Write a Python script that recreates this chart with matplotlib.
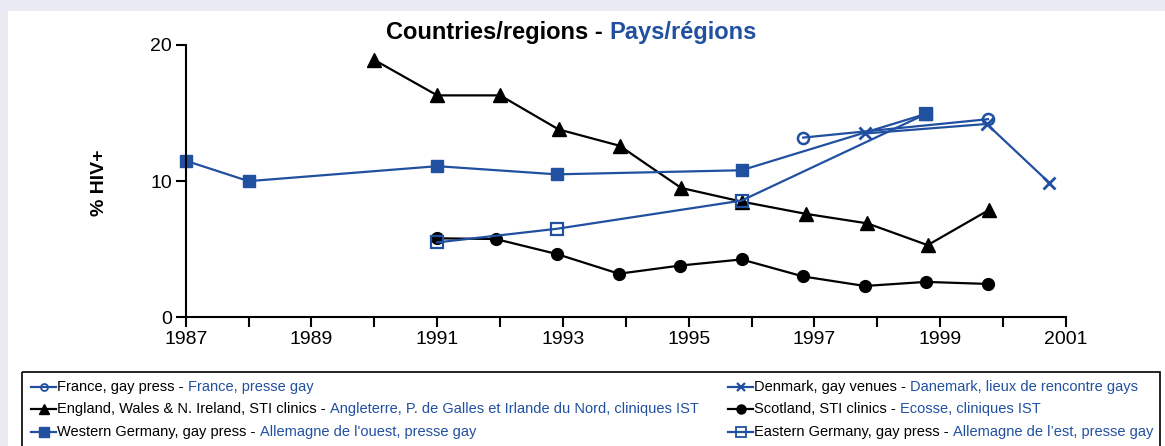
import matplotlib
matplotlib.use("Agg")
import matplotlib.pyplot as plt
from matplotlib.patches import Rectangle
from matplotlib.lines import Line2D

plt.rcParams['font.family'] = ['Liberation Sans', 'DejaVu Sans']

BLUE = '#2150A0'

# data (year, % HIV+)
france_x = [1996.82, 1999.76]
france_y = [13.2, 14.55]

denmark_x = [1997.8, 1999.74, 2000.73]
denmark_y = [13.5, 14.2, 9.9]

england_x = [1990.0, 1991.0, 1992.0, 1992.93, 1993.9, 1994.88, 1995.84,
             1996.86, 1997.84, 1998.8, 1999.78]
england_y = [18.9, 16.3, 16.3, 13.8, 12.6, 9.5, 8.5, 7.6, 6.9, 5.3, 7.9]

scotland_x = [1991.0, 1991.93, 1992.9, 1993.89, 1994.86, 1995.84, 1996.82,
              1997.8, 1998.77, 1999.76]
scotland_y = [5.8, 5.75, 4.65, 3.2, 3.8, 4.25, 3.0, 2.3, 2.6, 2.45]

westger_x = [1987.0, 1988.0, 1991.0, 1992.9, 1995.84, 1998.78]
westger_y = [11.5, 10.0, 11.1, 10.5, 10.8, 14.95]

eastger_x = [1991.0, 1992.9, 1995.84, 1998.78]
eastger_y = [5.5, 6.5, 8.57, 14.95]

legend_en = ['France, gay press - ',
             'England, Wales & N. Ireland, STI clinics - ',
             'Western Germany, gay press - ',
             'Denmark, gay venues - ',
             'Scotland, STI clinics - ',
             'Eastern Germany, gay press - ']
legend_fr = ['France, presse gay',
             'Angleterre, P. de Galles et Irlande du Nord, cliniques IST',
             "Allemagne de l'ouest, presse gay",
             'Danemark, lieux de rencontre gays',
             'Ecosse, cliniques IST',
             'Allemagne de l\u2019est, presse gay']

W, H = 1165, 446
fig = plt.figure(figsize=(W / 100, H / 100), dpi=100)
fig.patch.set_facecolor('#EAEAF2')

# overlay axes in pixel coords for panel, title, legend
lax = fig.add_axes([0, 0, 1, 1])
lax.set_xlim(0, W)
lax.set_ylim(H, 0)
lax.axis('off')
lax.add_patch(Rectangle((8, 11), W - 8, H - 11, facecolor='white', edgecolor='none', zorder=0))

ax = fig.add_axes([185.7 / W, (H - 317.3) / H, (1066 - 185.7) / W, (317.3 - 45) / H])
ax.set_facecolor('none')

styles = dict(lw=1.6, clip_on=False)
ax.plot(england_x, england_y, color='black', marker='^', ms=10, **styles)
ax.plot(scotland_x, scotland_y, color='black', marker='o', ms=8.5, **styles)
ax.plot(westger_x, westger_y, color=BLUE, marker='s', ms=9, **styles)
ax.plot(eastger_x, eastger_y, color=BLUE, marker='s', ms=8, mfc='none', mew=1.6, **styles)
ax.plot(france_x, france_y, color=BLUE, marker='o', ms=8, mfc='none', mew=1.8, **styles)
ax.plot(denmark_x, denmark_y, color=BLUE, marker='x', ms=8, mew=2, **styles)

ax.set_xlim(1987, 2001)
ax.set_ylim(0, 20)
ax.set_xticks(range(1987, 2002, 2))
ax.set_xticks(range(1988, 2001, 2), minor=True)
ax.set_yticks([0, 10, 20])
for s in ['top', 'right']:
    ax.spines[s].set_visible(False)
for s in ['left', 'bottom']:
    ax.spines[s].set_linewidth(1.5)
ax.tick_params(which='both', direction='out', length=7, width=1.5, labelsize=14, pad=3)

lax.text(99, 183, '% HIV+', rotation=90, ha='center', va='center',
         fontsize=14, fontweight='bold')

# title in two colours
t1 = lax.text(386, 33, 'Countries/regions - ', ha='left', va='center',
              fontsize=17, fontweight='bold', color='black')
lax.annotate('Pays/régions', xy=(1, 0), xycoords=t1, ha='left', va='bottom',
             fontsize=17, fontweight='bold', color=BLUE)

# legend box
lax.add_patch(Rectangle((22, 372), 1138, 80, facecolor='none', edgecolor='black', lw=1.2))

handles = [
    dict(color=BLUE, marker='o', ms=5, mfc='none', mew=1.3),
    dict(color='black', marker='^', ms=6.5),
    dict(color=BLUE, marker='s', ms=6.5),
    dict(color=BLUE, marker='x', ms=5.5, mew=1.6),
    dict(color='black', marker='o', ms=6.5),
    dict(color=BLUE, marker='s', ms=6.5, mfc='none', mew=1.3),
]
rows = [387, 409, 432]
for i in range(6):
    col = i // 3
    y = rows[i % 3]
    hx = 31 if col == 0 else 728
    lax.add_line(Line2D([hx, hx + 25], [y, y], lw=1.6, color=handles[i]['color']))
    lax.add_line(Line2D([hx + 12.5], [y], lw=0, **handles[i]))
    te = lax.text(hx + 26, y, legend_en[i], ha='left', va='center', fontsize=10.5, color='black')
    lax.annotate(legend_fr[i], xy=(1, 0), xycoords=te, ha='left', va='bottom',
                 fontsize=10.5, color=BLUE)

fig.savefig('out.png', dpi=100)
